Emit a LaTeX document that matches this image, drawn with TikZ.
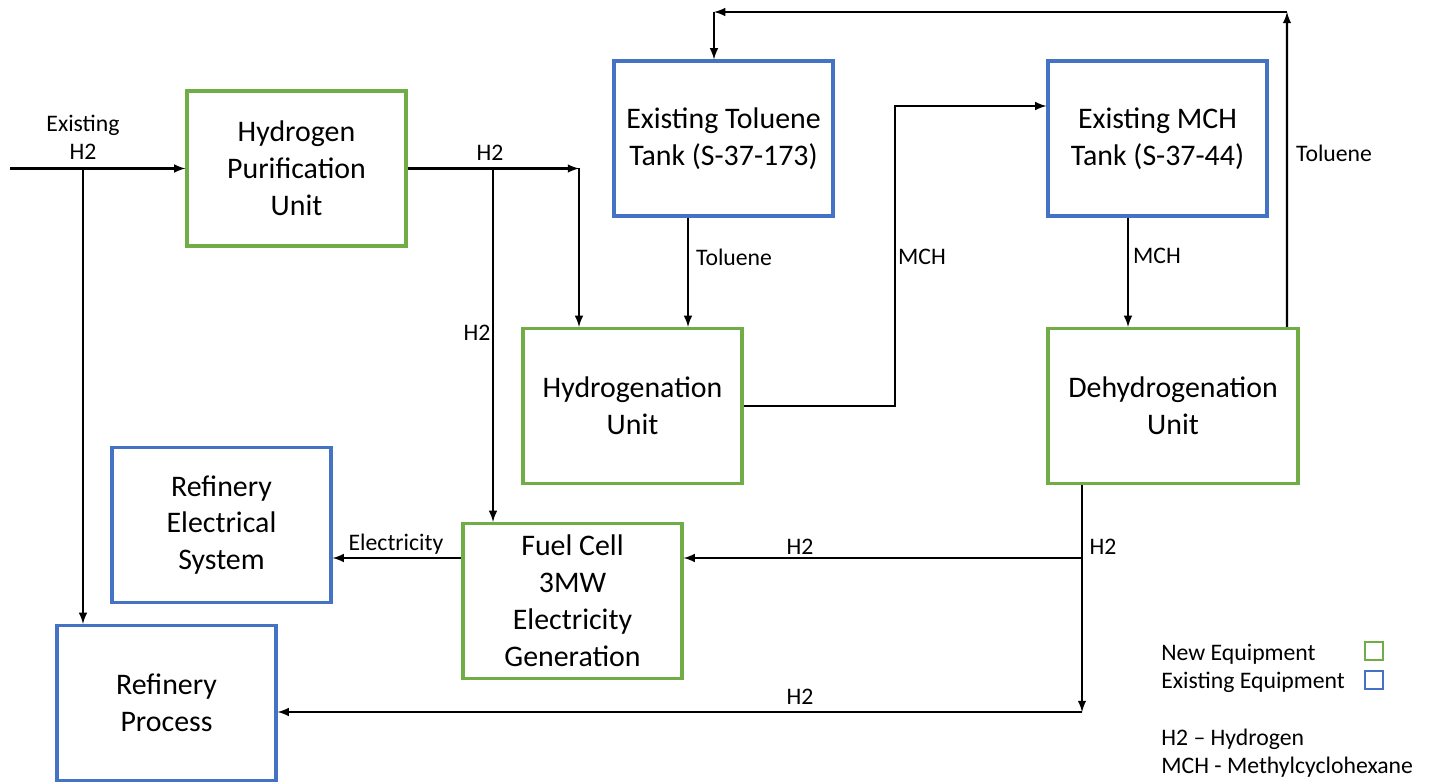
\documentclass[tikz,border=0pt]{standalone}
\usepackage{fontspec}
\setmainfont{Carlito}
\usetikzlibrary{arrows,shapes}
\definecolor{newgreen}{RGB}{112,173,71}
\definecolor{oldblue}{RGB}{68,114,196}
\tikzstyle{unit} = [rectangle, line width=1.8pt, minimum width=4.38cm,
    minimum height=3.1cm, align=center, inner sep=0pt,
    font=\fontsize{17}{21}\selectfont]
\tikzstyle{newunit} = [unit, draw=newgreen]
\tikzstyle{oldunit} = [unit, draw=oldblue]
\tikzstyle{line} = [draw, line width=1.2pt, -latex]
\tikzstyle{lbl} = [align=center, inner sep=0pt, font=\fontsize{13.5}{16}\selectfont]
\tikzstyle{legendbox} = [rectangle, line width=1.6pt, minimum size=0.36cm, inner sep=0pt]

\begin{document}
\begin{tikzpicture}[x=0.02cm, y=-0.02cm]
    \useasboundingbox (0,0) rectangle (1433,783);
    % Place nodes
    \node [newunit] (purif) at (296.5,168.5) {Hydrogen\\Purification\\Unit};
    \node [oldunit] (toltank) at (723.5,138.5) {Existing Toluene\\Tank (S-37-173)};
    \node [oldunit] (mchtank) at (1157.5,138.5) {Existing MCH\\Tank (S-37-44)};
    \node [newunit] (hydro) at (632.5,406) {Hydrogenation\\Unit};
    \node [newunit, minimum width=5cm] (dehydro) at (1173,406) {Dehydrogenation\\Unit};
    \node [oldunit] (elec) at (221.5,525) {Refinery\\Electrical\\System};
    \node [newunit] (fuel) at (572.5,601) {Fuel Cell\\3MW\\Electricity\\Generation};
    \node [oldunit] (refproc) at (166.5,703) {Refinery\\Process};

    % Junctions
    \coordinate (inH2) at (10,168.5);
    \coordinate (splitA) at (83,168.5);
    \coordinate (h2split) at (493,168.5);
    \coordinate (h2turn) at (579,168.5);
    \coordinate (mchup) at (895,406);
    \coordinate (mchin) at ([yshift=0.65cm]mchtank.west);
    \coordinate (tolret) at (1287,12);
    \coordinate (toltop) at (714,12);
    \coordinate (h2tee) at (1082,558);
    \coordinate (h2drop) at (1082,712);

    % Draw edges
    \path [line] (inH2) -- (purif.west);
    \path [line] (splitA) -- (splitA |- refproc.north);
    \path [line] (purif.east) -- (h2turn);
    \path [line] (h2turn) -- (h2turn |- hydro.north);
    \path [line] (h2split) -- (h2split |- fuel.north);
    \path [line] ([xshift=-0.71cm]toltank.south) -- ([xshift=-0.71cm]toltank.south |- hydro.north);
    \path [line] (hydro.east) -- (mchup) -- (mchup |- mchin) -- (mchin);
    \path [line] ([xshift=-0.59cm]mchtank.south) -- ([xshift=-0.59cm]mchtank.south |- dehydro.north);
    \path [line] ([xshift=2.28cm]dehydro.north) -- (tolret);
    \path [line] (tolret) -- (toltop);
    \path [line] (toltop) -- (toltop |- toltank.north);
    \path [line] (dehydro.south -| h2drop) -- (h2drop);
    \path [line] (h2tee) -- (h2tee -| fuel.east);
    \path [line] (h2drop) -- (h2drop -| refproc.east);
    \path [line] (fuel.west |- h2tee) -- (elec.east |- h2tee);

    % Stream labels
    \node [lbl] (lblin) at (83,137) {Existing\\H2};
    \node [lbl] (lblpur) at (490,153) {H2};
    \node [lbl] (lblfc) at (477,333) {H2};
    \node [lbl] (lbltol) at (734,257) {Toluene};
    \node [lbl] (lblmch) at (922,257) {MCH};
    \node [lbl] (lblmcht) at (1157,256) {MCH};
    \node [lbl] (lbltolr) at (1334,153) {Toluene};
    \node [lbl] (lbldh) at (1103,547) {H2};
    \node [lbl] (lblfch) at (800,547) {H2};
    \node [lbl] (lblrp) at (800,697) {H2};
    \node [lbl] (lblel) at (396,544) {Electricity};

    % Legend
    \node [lbl, anchor=west] (leg1) at (1161,654) {New Equipment};
    \node [lbl, anchor=west] (leg2) at (1161,682) {Existing Equipment};
    \node [legendbox, draw=newgreen] (legnew) at (1374,651) {};
    \node [legendbox, draw=oldblue] (legold) at (1374,680) {};
    \node [lbl, anchor=west] (leg3) at (1161,739) {H2 -- Hydrogen};
    \node [lbl, anchor=west] (leg4) at (1161,767) {MCH - Methylcyclohexane};
\end{tikzpicture}
\end{document}
